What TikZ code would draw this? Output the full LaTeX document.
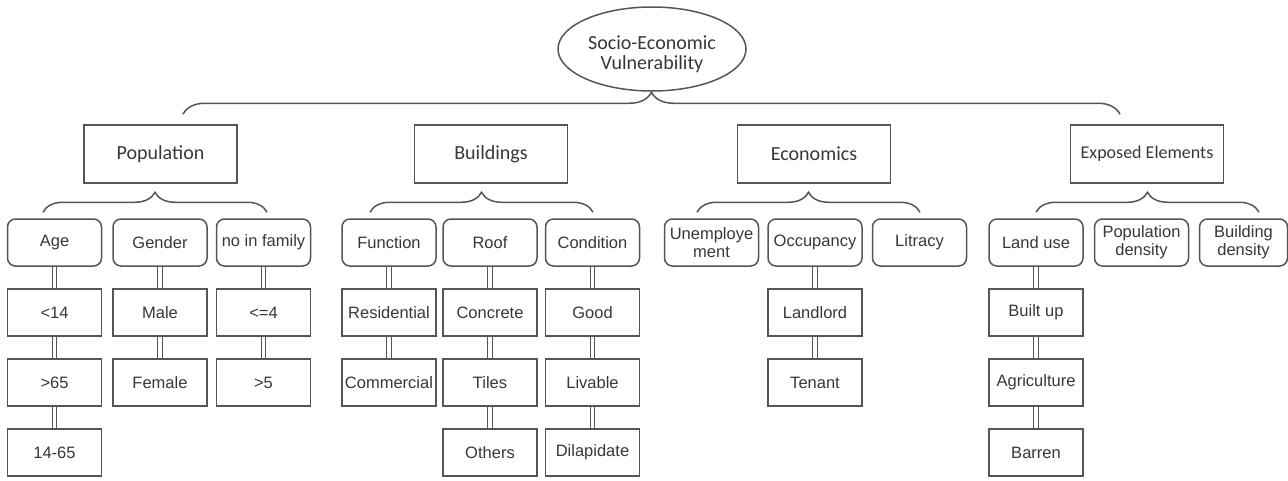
\documentclass[tikz,border=0pt]{standalone}
\usepackage{fontspec}
\setmainfont{Liberation Sans}
\newfontfamily\calibri{Carlito}
\usetikzlibrary{shapes.geometric}
\usetikzlibrary{decorations.pathreplacing}

\definecolor{linegray}{RGB}{85,85,85}
\definecolor{textgray}{RGB}{55,55,55}

\tikzset{
    main/.style={ellipse, draw=linegray, line width=1.5pt, minimum width=188pt, minimum height=84pt,
        inner sep=0pt, align=center, text=textgray, font=\calibri\fontsize{20}{20}\selectfont},
    cat/.style={rectangle, draw=linegray, line width=1.5pt, minimum width=153pt, minimum height=58pt,
        text=textgray, font=\calibri\fontsize{20}{22}\selectfont},
    sub/.style={rectangle, rounded corners=8pt, draw=linegray, line width=1.5pt, minimum width=94pt,
        minimum height=47pt, inner sep=1pt, align=center, text=textgray, font=\fontsize{16.5}{18}\selectfont},
    leaf/.style={rectangle, draw=linegray, line width=1.5pt, minimum width=94pt, minimum height=47pt,
        inner sep=1pt, text=textgray, font=\fontsize{16.5}{18}\selectfont},
    dbl/.style={draw=linegray, line width=1.2pt, double=white, double distance=3.5pt},
    grp/.style={draw=linegray, line width=1.5pt, decorate, decoration={brace, amplitude=#1}},
    grp/.default=20pt
}

\begin{document}
\begin{tikzpicture}[x=1pt, y=-1pt]

    \useasboundingbox (0,0) rectangle (1288,480);

    % text sits a little below the centre of the ellipse
    \node[main] (sev) at (652,49) {\mbox{}\\[4pt]Socio-Economic\\Vulnerability};

    \node[cat] (pop) at (160.5,154) {Population};
    \node[cat] (bld) at (491,154) {Buildings};
    \node[cat] (eco) at (814,154) {Economics};
    \node[cat, font=\calibri\fontsize{18}{20}\selectfont] (exp) at (1147,154) {Exposed Elements};

    % second row
    \node[sub] (age) at (54.5,242.5) {Age};
    \node[sub] (gender) at (160,242.5) {Gender};
    \node[sub] (nofam) at (263.5,242.5) {no in family};
    \node[sub] (func) at (389,242.5) {Function};
    \node[sub] (roof) at (490,242.5) {Roof};
    \node[sub] (cond) at (592.5,242.5) {Condition};
    \node[sub] (unemp) at (711.5,242.5) {Unemploye\\ment};
    \node[sub] (occ) at (815,242.5) {Occupancy};
    \node[sub] (lit) at (919.5,242.5) {Litracy};
    \node[sub] (land) at (1036,242.5) {Land use};
    \node[sub] (popd) at (1141.5,242.5) {Population\\density};
    \node[sub, minimum width=88pt] (bldd) at (1243.5,242.5) {Building\\density};

    % third row
    \node[leaf] (lt14) at (54.5,312.5) {<14};
    \node[leaf] (male) at (160,312.5) {Male};
    \node[leaf] (le4) at (263.5,312.5) {<=4};
    \node[leaf] (resid) at (389,312.5) {Residential};
    \node[leaf] (concr) at (490,312.5) {Concrete};
    \node[leaf] (good) at (592.5,312.5) {Good};
    \node[leaf] (landl) at (815,312.5) {Landlord};
    \node[leaf] (built) at (1036,312.5) {Built up};

    % fourth row
    \node[leaf] (gt65) at (54.5,382.5) {>65};
    \node[leaf] (female) at (160,382.5) {Female};
    \node[leaf] (gt5) at (263.5,382.5) {>5};
    \node[leaf] (comm) at (389,382.5) {Commercial};
    \node[leaf] (tiles) at (490,382.5) {Tiles};
    \node[leaf] (liv) at (592.5,382.5) {Livable};
    \node[leaf] (ten) at (815,382.5) {Tenant};
    \node[leaf] (agri) at (1036,382.5) {Agriculture};

    % fifth row
    \node[leaf] (midage) at (54.5,452.5) {14-65};
    \node[leaf] (others) at (490,452.5) {Others};
    \node[leaf] (dilap) at (592.5,452.5) {Dilapidate};
    \node[leaf] (barren) at (1036,452.5) {Barren};

    \foreach \a/\b in {age/lt14, lt14/gt65, gt65/midage, gender/male, male/female, nofam/le4, le4/gt5,
        func/resid, resid/comm, roof/concr, concr/tiles, tiles/others, cond/good, good/liv, liv/dilap,
        occ/landl, landl/ten, land/built, built/agri, agri/barren}
        \draw[dbl] (\a) -- (\b);

    % braces
    \draw[grp=22pt] ([xshift=22.5pt, yshift=10pt]pop.north) -- ([xshift=-27pt, yshift=10pt]exp.north);
    \draw[grp] ([xshift=-11.5pt, yshift=6pt]age.north) -- ([xshift=3.5pt, yshift=6pt]nofam.north);
    \draw[grp] ([xshift=-19pt, yshift=6pt]func.north) -- ([xshift=0.5pt, yshift=6pt]cond.north);
    \draw[grp] ([xshift=-14.5pt, yshift=6pt]unemp.north) -- ([xshift=0.5pt, yshift=6pt]lit.north);
    \draw[grp] ([yshift=6pt]land.north) -- ([xshift=15.5pt, yshift=6pt]bldd.north);

\end{tikzpicture}
\end{document}
